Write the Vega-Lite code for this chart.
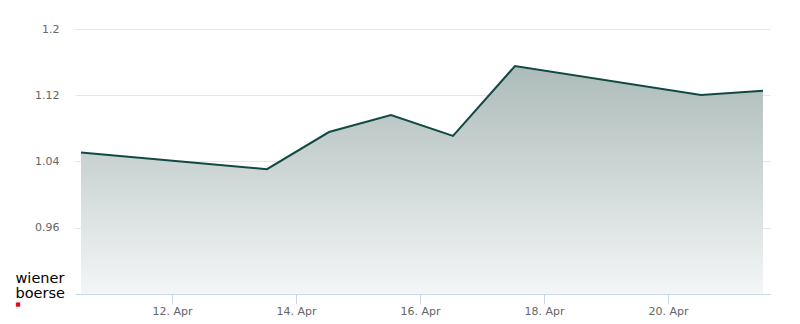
{
  "$schema": "https://vega.github.io/schema/vega-lite/v6.json",
  "autosize": "none",
  "width": 695,
  "height": 265,
  "padding": {"left": 75, "top": 29, "right": 30, "bottom": 30},
  "background": "#ffffff",
  "config": {"view": {"stroke": null}, "font": "DejaVu Sans"},
  "data": {
    "values": [
      {"date": "2026-04-10T12:45:00", "price": 1.0508},
      {"date": "2026-04-13T12:45:00", "price": 1.0307},
      {"date": "2026-04-14T12:45:00", "price": 1.0756},
      {"date": "2026-04-15T12:45:00", "price": 1.096},
      {"date": "2026-04-16T12:45:00", "price": 1.071},
      {"date": "2026-04-17T12:45:00", "price": 1.1553},
      {"date": "2026-04-20T12:45:00", "price": 1.1204},
      {"date": "2026-04-21T12:45:00", "price": 1.1253}
    ]
  },
  "encoding": {
    "x": {
      "field": "date",
      "type": "temporal",
      "scale": {
        "domain": [
          {"year": 2026, "month": 4, "date": 10, "hours": 10, "minutes": 26},
          {"year": 2026, "month": 4, "date": 21, "hours": 15, "minutes": 28}
        ]
      },
      "axis": {
        "values": [
          {"year": 2026, "month": 4, "date": 12},
          {"year": 2026, "month": 4, "date": 14},
          {"year": 2026, "month": 4, "date": 16},
          {"year": 2026, "month": 4, "date": 18},
          {"year": 2026, "month": 4, "date": 20}
        ],
        "format": "%-d. %b",
        "grid": false,
        "domainColor": "#ccd6eb",
        "domainWidth": 1,
        "tickColor": "#ccd6eb",
        "tickSize": 10,
        "labelPadding": 1,
        "labelColor": "#666666",
        "labelFontSize": 11,
        "labelFont": "DejaVu Sans",
        "title": "■",
        "titleColor": "#e30613",
        "titleFontSize": 5.5,
        "titleFont": "DejaVu Sans",
        "titleFontWeight": "normal",
        "titleAlign": "left",
        "titleBaseline": "alphabetic",
        "titleX": -60,
        "titleY": 11.5
      }
    },
    "y": {
      "field": "price",
      "type": "quantitative",
      "scale": {"domain": [0.88, 1.2], "nice": false, "zero": false},
      "axis": {
        "values": [0.96, 1.04, 1.12, 1.2],
        "format": ".3~g",
        "grid": true,
        "gridColor": "#e6e6e6",
        "domain": false,
        "ticks": false,
        "labelPadding": 16,
        "labelColor": "#666666",
        "labelFontSize": 11,
        "labelFont": "DejaVu Sans",
        "title": ["wiener", "boerse"],
        "titleAngle": 0,
        "titleAlign": "left",
        "titleBaseline": "alphabetic",
        "titleX": -60,
        "titleY": 253.7,
        "titleFont": "DejaVu Sans",
        "titleFontSize": 14.5,
        "titleFontWeight": "normal",
        "titleColor": "#000000",
        "titleLineHeight": 14.6
      }
    }
  },
  "layer": [
    {
      "mark": {
        "type": "area",
        "clip": true,
        "color": {
          "gradient": "linear",
          "x1": 0, "y1": 0, "x2": 0, "y2": 1,
          "stops": [
            {"offset": 0, "color": "#acbbb9"},
            {"offset": 1, "color": "#f4f6f6"}
          ]
        }
      },
      "encoding": {"y2": {"datum": 0.88}}
    },
    {
      "mark": {"type": "line", "color": "#114944", "strokeWidth": 2, "clip": true},
      "encoding": {}
    }
  ]
}
